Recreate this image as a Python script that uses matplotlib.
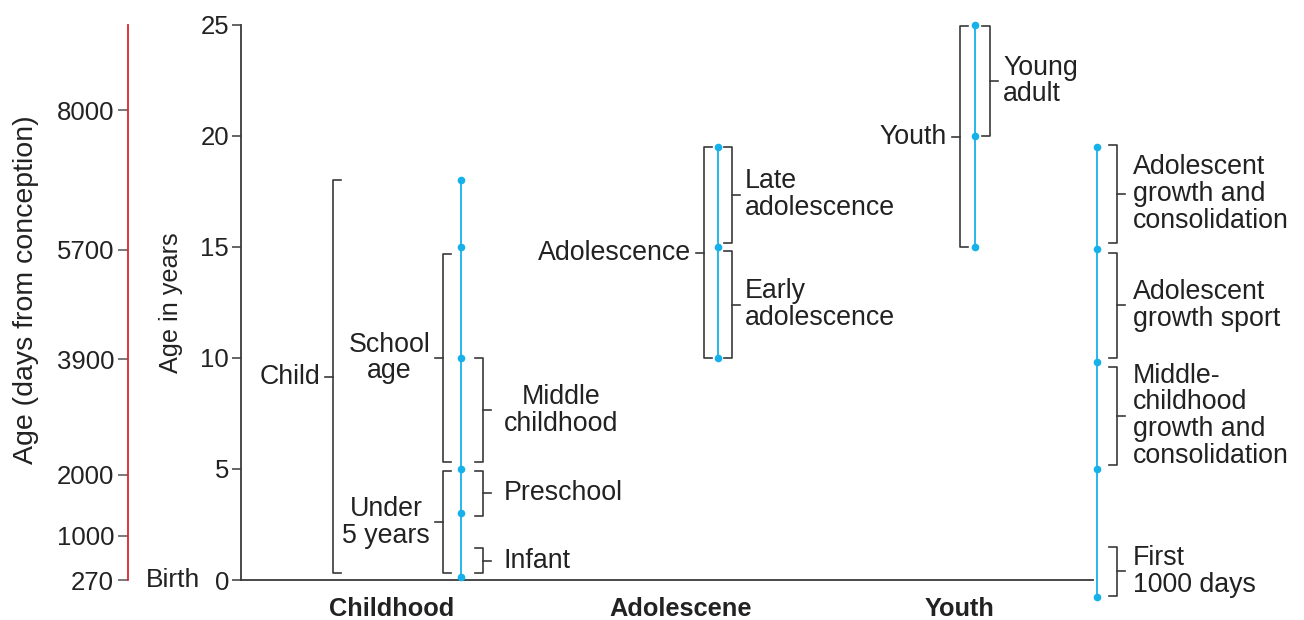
import matplotlib.pyplot as plt

plt.rcParams['font.family'] = ['Liberation Sans', 'DejaVu Sans']

BLUE = '#16b1ea'
INK = '#3a3a3a'
RED = '#d7262e'

# horizontal layout (pixels from the age axis)
col_x = [220, 477, 734, 856]
label_gap = [13, 5, 5, 8]
category_x = [151, 440, 719]
categories = ['Childhood', 'Adolescene', 'Youth']

# dots on the stage lines (age in years)
childhood_pts = [0.15, 3, 5, 10, 15, 18]
adolescence_pts = [10, 15, 19.5]
youth_pts = [15, 20, 25]
sport_pts = [-0.75, 5, 9.8, 14.9, 19.5]

# brackets: (label, start age, end age, offset from line, side)
childhood_brackets = [
    ('Child', 0.3, 18, -128, 'left'),
    ('School\nage', 5.3, 14.7, -18, 'left'),
    ('Under\n5 years', 0.3, 4.9, -18, 'left'),
    ('Middle\nchildhood', 5.3, 10, 22, 'right'),
    ('Preschool', 2.9, 4.9, 22, 'right'),
    ('Infant', 0.3, 1.45, 22, 'right'),
]
adolescence_brackets = [
    ('Adolescence', 10, 19.5, -14, 'left'),
    ('Late\nadolescence', 15.2, 19.5, 14, 'right'),
    ('Early\nadolescence', 10, 14.8, 14, 'right'),
]
youth_brackets = [
    ('Youth', 15, 24.95, -15, 'left'),
    ('Young\nadult', 20, 24.95, 15, 'right'),
]
sport_brackets = [
    ('Adolescent\ngrowth and\nconsolidation', 15.2, 19.6, 20, 'right'),
    ('Adolescent\ngrowth sport', 10.0, 14.75, 20, 'right'),
    ('Middle-\nchildhood\ngrowth and\nconsolidation', 5.2, 9.6, 20, 'right'),
    ('First\n1000 days', -0.7, 1.5, 20, 'right'),
]

# secondary scale: days from conception
day_ticks = [270, 1000, 2000, 3900, 5700, 8000]

TXT = 19.3
W, H = 1304, 620
fig = plt.figure(figsize=(W / 100, H / 100), dpi=100)
ax = fig.add_axes([241 / W, 1 - 580 / H, 852 / W, 555 / H])
ax.set_xlim(0, 852)
ax.set_ylim(0, 25)

for s in ['top', 'right']:
    ax.spines[s].set_visible(False)
for s in ['left', 'bottom']:
    ax.spines[s].set_color(INK)
    ax.spines[s].set_linewidth(1.3)

ax.set_yticks([0, 5, 10, 15, 20, 25])
ax.tick_params(axis='y', length=6.5, width=1.1, color=INK, labelsize=18.5, pad=2, labelcolor='#222222')
ax.set_xticks(category_x)
ax.set_xticklabels(categories, fontsize=18.3, fontweight='bold', color='#222222')
ax.tick_params(axis='x', length=0, pad=12)
ax.set_ylabel('Age in years', fontsize=18.2, color='#222222')
ax.yaxis.set_label_coords(-58 / 852, 0.5)
ax.annotate('Birth', xy=(0, 0), xycoords=('axes fraction', 'data'), xytext=(-41, 0),
            textcoords='offset pixels', ha='right', va='center', fontsize=19, color='#222222',
            annotation_clip=False)


def stage_line(x, pts):
    ax.plot([x] * len(pts), pts, color=BLUE, lw=1.3, marker='o', ms=5.5, mec='none',
            clip_on=False, zorder=3)


def bracket(x, gap, label, y0, y1, off, side):
    bx = x + off
    arm = 8
    tick = 8
    ym = (y0 + y1) / 2
    if side == 'left':
        ax.plot([bx + arm, bx, bx, bx + arm], [y0, y0, y1, y1], color=INK, lw=1.2, clip_on=False)
        ax.plot([bx, bx - tick], [ym, ym], color=INK, lw=1.2, clip_on=False)
        ax.text(bx - tick - 5, ym, label, ha='right', va='center', multialignment='center',
                fontsize=TXT, linespacing=1.04, color='#222222')
    else:
        ax.plot([bx - arm, bx, bx, bx - arm], [y0, y0, y1, y1], color=INK, lw=1.2, clip_on=False)
        ax.plot([bx, bx + tick], [ym, ym], color=INK, lw=1.2, clip_on=False)
        align = 'center' if label == 'Middle\nchildhood' else 'left'
        ax.text(bx + tick + gap, ym, label, ha='left', va='center', multialignment=align,
                fontsize=TXT, linespacing=1.04, color='#222222')


for x, gap, pts, brs in zip(col_x, label_gap,
                            [childhood_pts, adolescence_pts, youth_pts, sport_pts],
                            [childhood_brackets, adolescence_brackets, youth_brackets, sport_brackets]):
    stage_line(x, pts)
    for b in brs:
        bracket(x, gap, *b)

# days axis
ax2 = fig.add_axes([128 / W, 1 - 580 / H, 0.0001, 555 / H])
ax2.set_ylim(0, 25)
ax2.set_xticks([])
for s in ['top', 'right', 'bottom']:
    ax2.spines[s].set_visible(False)
ax2.spines['left'].set_color(RED)
ax2.spines['left'].set_linewidth(1.3)
ax2.patch.set_visible(False)
ax2.set_yticks([(d - 270) / 365.25 for d in day_ticks])
ax2.set_yticklabels([str(d) for d in day_ticks])
ax2.tick_params(axis='y', length=7, width=1.1, color='#555555', labelsize=18.5, pad=3, labelcolor='#222222')
ax2.set_ylabel('Age (days from conception)', fontsize=20.5, color='#222222')
ax2.yaxis.set_label_coords(39 / W, 1 - 290 / H, transform=fig.transFigure)

fig.savefig('out.png', dpi=100)
